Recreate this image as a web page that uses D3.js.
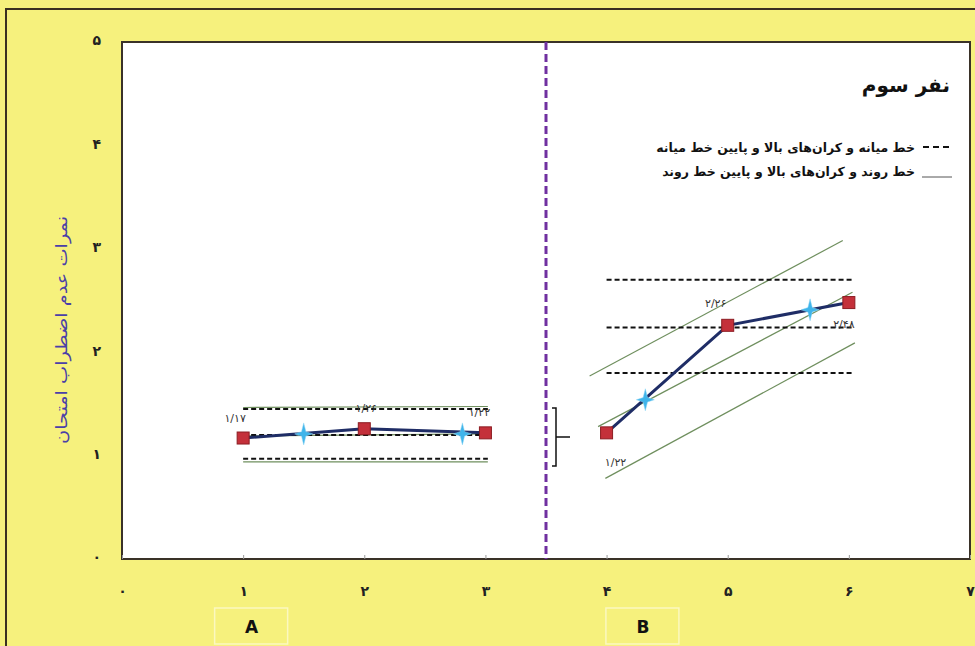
<!DOCTYPE html>
<html><head><meta charset="utf-8">
<script src="https://cdn.jsdelivr.net/npm/d3@7"></script>
<style>
html,body{margin:0;padding:0;background:#F6F17D;}
svg{display:block;}
text{font-family:"DejaVu Sans",sans-serif;}
</style></head>
<body>
<svg id="chart" width="975" height="646"></svg>
<script>
// ---- data ----
const xTickValues = [0,1,2,3,4,5,6,7];
const xTickLabels = ["۰","۱","۲","۳","۴","۵","۶","۷"];
const yTickValues = [0,1,2,3,4,5];
const yTickLabels = ["۰","۱","۲","۳","۴","۵"];

const phaseAX = [1,2,3];
const phaseAY = [1.17,1.26,1.22];
const phaseALabels = ["۱/۱۷","۱/۲۶","۱/۲۲"];
const phaseBX = [4,5,6];
const phaseBY = [1.22,2.26,2.48];
const phaseBLabels = ["۱/۲۲","۲/۲۶","۲/۴۸"];

const starX = [1.5,2.81,4.32,5.68];
const starY = [1.21,1.21,1.54,2.41];

const medianAX = [1,3.02];
const medianALevels = [1.45,1.20,0.97];
const medianBX = [4,6.03];
const medianBLevels = [2.70,2.24,1.80];

const trendAStartX = [1,1,1];
const trendAStartY = [1.465,1.19,0.94];
const trendAEndX = [3.02,3.02,3.02];
const trendAEndY = [1.475,1.21,0.94];
const trendBStartX = [3.86,3.93,3.99];
const trendBStartY = [1.77,1.28,0.78];
const trendBEndX = [5.95,6.03,6.05];
const trendBEndY = [3.08,2.58,2.09];

const phaseDivider = 3.5;
const bracketValues = [1.46,1.18,0.90];
const phaseNames = ["A","B"];
const phaseNameX = [1.07,4.3];

const titleText = "نفر سوم";
const legendTexts = ["خط میانه و کران‌های بالا و پایین خط میانه","خط روند و کران‌های بالا و پایین خط روند"];
const yAxisTitle = "نمرات عدم اضطراب امتحان";

// ---- drawing ----
const svg = d3.select("#chart");
const L=122,R=970,T=42,B=559;
const x = d3.scaleLinear().domain([0,7]).range([L,R]);
const y = d3.scaleLinear().domain([0,5]).range([B,T]);

// outer frame
svg.append("rect").attr("x",0).attr("y",0).attr("width",975).attr("height",646).attr("fill","#F6F17D");
svg.append("rect").attr("x",6).attr("y",9).attr("width",1000).attr("height",700)
  .attr("fill","none").attr("stroke","#3a3020").attr("stroke-width",2);

// plot area
svg.append("rect").attr("x",L).attr("y",T).attr("width",R-L).attr("height",B-T)
  .attr("fill","#ffffff").attr("stroke","#3a3228").attr("stroke-width",2);

// x axis
const xAxis = d3.axisBottom(x).tickValues(xTickValues)
  .tickFormat((d,i)=>xTickLabels[i]).tickSizeInner(-4).tickSizeOuter(0).tickPadding(27);
const gx = svg.append("g").attr("transform",`translate(0,${B})`).call(xAxis);
gx.select(".domain").remove();
gx.selectAll(".tick line").attr("stroke","#999");
gx.selectAll(".tick text").attr("font-size",14).attr("font-weight","bold").attr("fill","#222");

// y axis
const yAxis = d3.axisLeft(y).tickValues(yTickValues)
  .tickFormat((d,i)=>yTickLabels[i]).tickSize(0).tickPadding(21);
const gy = svg.append("g").attr("transform",`translate(${L},0)`).call(yAxis);
gy.select(".domain").remove();
gy.selectAll(".tick text").attr("font-size",14).attr("font-weight","bold").attr("fill","#222")
  .attr("dy","0.2em");

// y axis title
svg.append("text").attr("transform",`translate(67,${330}) rotate(-90)`)
  .attr("text-anchor","middle").attr("font-size",16).attr("fill","#4a3fa8")
  .attr("textLength",228).attr("lengthAdjust","spacingAndGlyphs")
  .attr("direction","rtl").text(yAxisTitle);

// phase divider
svg.append("line").attr("x1",x(phaseDivider)).attr("x2",x(phaseDivider)).attr("y1",T).attr("y2",B)
  .attr("stroke","#7030A0").attr("stroke-width",3).attr("stroke-dasharray","8,4");

// bracket
const bx = x(phaseDivider)+10;
svg.append("path")
  .attr("d",`M${bx-4},${y(bracketValues[0])}H${bx}V${y(bracketValues[2])}H${bx-4}M${bx},${y(bracketValues[1])}H${bx+14}`)
  .attr("fill","none").attr("stroke","#111").attr("stroke-width",1.5);

// trend lines
const trendLines = [];
trendAStartX.forEach((v,i)=>trendLines.push([[v,trendAStartY[i]],[trendAEndX[i],trendAEndY[i]]]));
trendBStartX.forEach((v,i)=>trendLines.push([[v,trendBStartY[i]],[trendBEndX[i],trendBEndY[i]]]));
svg.append("g").selectAll("line").data(trendLines).join("line")
  .attr("x1",d=>x(d[0][0])).attr("y1",d=>y(d[0][1]))
  .attr("x2",d=>x(d[1][0])).attr("y2",d=>y(d[1][1]))
  .attr("stroke","#6f8f5e").attr("stroke-width",1.2);

// median lines
const medianLines = [];
medianALevels.forEach(v=>medianLines.push([medianAX[0],medianAX[1],v]));
medianBLevels.forEach(v=>medianLines.push([medianBX[0],medianBX[1],v]));
svg.append("g").selectAll("line").data(medianLines).join("line")
  .attr("x1",d=>x(d[0])).attr("x2",d=>x(d[1])).attr("y1",d=>y(d[2])).attr("y2",d=>y(d[2]))
  .attr("stroke","#111").attr("stroke-width",2).attr("stroke-dasharray","5,3");

// data lines
const line = d3.line().x(d=>x(d[0])).y(d=>y(d[1]));
const dataA = phaseAX.map((v,i)=>[v,phaseAY[i]]);
const dataB = phaseBX.map((v,i)=>[v,phaseBY[i]]);
[dataA,dataB].forEach(dd=>{
  svg.append("path").datum(dd).attr("d",line).attr("fill","none")
    .attr("stroke","#1f2d66").attr("stroke-width",3);
});

// stars
const starPath = "M0,-11 L2.2,-2.2 L9,0 L2.2,2.2 L0,11 L-2.2,2.2 L-9,0 L-2.2,-2.2 Z";
svg.append("g").selectAll("path").data(starX.map((v,i)=>[v,starY[i]])).join("path")
  .attr("d",starPath).attr("transform",d=>`translate(${x(d[0])},${y(d[1])})`)
  .attr("fill","#3fb4ea").attr("stroke","#8fd6f5").attr("stroke-width",0.5);

// squares
const pts = dataA.concat(dataB);
svg.append("g").selectAll("rect").data(pts).join("rect")
  .attr("x",d=>x(d[0])-6).attr("y",d=>y(d[1])-6).attr("width",12).attr("height",12)
  .attr("fill","#c4303a").attr("stroke","#8c1c22").attr("stroke-width",1);

// value labels
const labelOffsets = [[-8,-16],[2,-17],[-6,-17],[9,33],[-12,-18],[-5,25]];
const allLabels = phaseALabels.concat(phaseBLabels);
svg.append("g").selectAll("text").data(pts).join("text")
  .attr("x",(d,i)=>x(d[0])+labelOffsets[i][0]).attr("y",(d,i)=>y(d[1])+labelOffsets[i][1])
  .attr("text-anchor","middle").attr("font-size",11).attr("fill","#333")
  .text((d,i)=>allLabels[i]);

// title
svg.append("text").attr("x",950).attr("y",92).attr("text-anchor","end")
  .attr("font-size",20).attr("font-weight","bold").attr("fill","#111").text(titleText);

// legend
const legY = [152,176];
legendTexts.forEach((t,i)=>{
  svg.append("text").attr("x",915).attr("y",legY[i]).attr("text-anchor","end")
    .attr("font-size",12.5).attr("font-weight","bold").attr("fill","#111").text(t);
});
svg.append("line").attr("x1",923).attr("x2",952).attr("y1",legY[0]-5).attr("y2",legY[0]-5)
  .attr("stroke","#111").attr("stroke-width",2).attr("stroke-dasharray","6,4");
svg.append("line").attr("x1",922).attr("x2",952).attr("y1",legY[1]+1).attr("y2",legY[1]+1)
  .attr("stroke","#555").attr("stroke-width",1);

// phase boxes
phaseNames.forEach((n,i)=>{
  const cx = x(phaseNameX[i]);
  svg.append("rect").attr("x",cx-37).attr("y",608).attr("width",73).attr("height",36)
    .attr("fill","#F6F17D").attr("stroke","#fbf8c0").attr("stroke-width",1.5);
  svg.append("text").attr("x",cx).attr("y",633).attr("text-anchor","middle")
    .attr("font-size",17).attr("font-weight","bold").attr("fill","#111")
    .attr("font-family","Liberation Sans, sans-serif").text(n);
});
</script>
</body></html>
